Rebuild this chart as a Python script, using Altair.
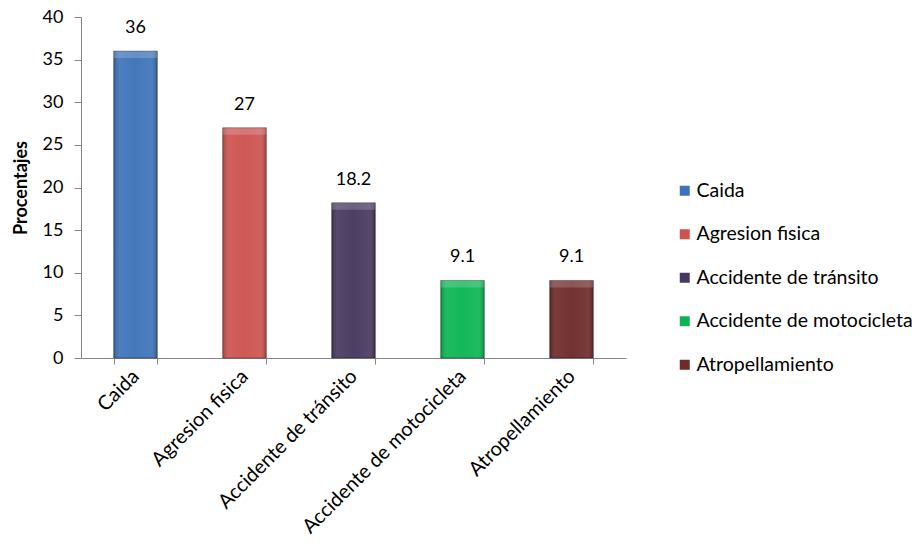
import altair as alt
import pandas as pd

categories = ["Caida", "Agresion fisica", "Accidente de tránsito",
              "Accidente de motocicleta", "Atropellamiento"]
values = [36, 27, 18.2, 9.1, 9.1]
value_labels = ["36", "27", "18.2", "9.1", "9.1"]
colors = ["#3E73B9", "#CD5350", "#47385F", "#0CB554", "#6E2B2A"]
y_ticks = [0, 5, 10, 15, 20, 25, 30, 35, 40]

df = pd.DataFrame({"categoria": categories, "valor": values, "etiqueta": value_labels})

FONT = "Lato"
FS_NUM = 18
FS_TXT = 20
FS_LEG = 19.5
GREY = "#868686"

x_enc = alt.X(
    "categoria:N",
    sort=categories,
    scale=alt.Scale(paddingInner=0.6, paddingOuter=0.3),
    axis=alt.Axis(
        title=None,
        labelAngle=-45,
        labelAlign="right",
        labelBaseline="middle",
        labelFont=FONT,
        labelFontSize=FS_TXT,
        labelColor="#000000",
        labelPadding=9,
        labelLimit=400,
        domainColor=GREY,
        tickColor=GREY,
        tickSize=6,
        tickBand="extent",
    ),
)
y_enc = alt.Y(
    "valor:Q",
    scale=alt.Scale(domain=[0, 40], nice=False),
    axis=alt.Axis(
        title="Procentajes",
        titleFont=FONT,
        titleFontSize=FS_NUM,
        titleFontWeight="bold",
        titleColor="#000000",
        titlePadding=12,
        values=y_ticks,
        grid=False,
        labelFont=FONT,
        labelFontSize=FS_NUM,
        labelColor="#000000",
        labelPadding=11,
        domainColor=GREY,
        tickColor=GREY,
        tickSize=7,
    ),
)

base = alt.Chart(df)

bars = base.mark_bar().encode(
    x=x_enc,
    y=y_enc,
    color=alt.Color(
        "categoria:N",
        sort=categories,
        scale=alt.Scale(domain=categories, range=colors),
        title=None,
        legend=alt.Legend(
            orient="none",
            legendX=594,
            legendY=164,
            symbolType="square",
            symbolSize=100,
            symbolStrokeWidth=0,
            labelFont=FONT,
            labelFontSize=FS_LEG,
            labelColor="#000000",
            labelOffset=2,
            labelLimit=400,
            rowPadding=22.5,
            padding=0,
        ),
    ),
)

shade = base.mark_bar(
    fill=alt.Gradient(
        gradient="linear",
        x1=0, x2=1, y1=0, y2=0,
        stops=[
            alt.GradientStop(offset=0, color="rgba(0,0,0,0.22)"),
            alt.GradientStop(offset=0.15, color="rgba(255,255,255,0.08)"),
            alt.GradientStop(offset=0.5, color="rgba(255,255,255,0.03)"),
            alt.GradientStop(offset=0.85, color="rgba(255,255,255,0.08)"),
            alt.GradientStop(offset=1, color="rgba(0,0,0,0.25)"),
        ],
    ),
    stroke="rgba(0,0,0,0.35)",
    strokeWidth=1,
).encode(x=alt.X("categoria:N", sort=categories), y="valor:Q")

top_bevel = base.mark_bar(fill="rgba(255,255,255,0.18)", y2Offset=7).encode(
    x=alt.X("categoria:N", sort=categories), y="valor:Q", y2="valor:Q"
)

text = base.mark_text(
    font=FONT, fontSize=FS_NUM, color="#000000", baseline="bottom", dy=-14
).encode(x=alt.X("categoria:N", sort=categories), y="valor:Q", text="etiqueta:N")

chart = (
    alt.layer(bars, shade, top_bevel, text)
    .properties(
        width=545,
        height=341,
        autosize=alt.AutoSizeParams(type="none"),
        padding={"left": 81, "top": 17, "right": 286, "bottom": 188},
        background="#ffffff",
    )
    .configure_view(stroke=None)
)

chart.save("out.html", embed_options={"renderer": "svg", "actions": False})
